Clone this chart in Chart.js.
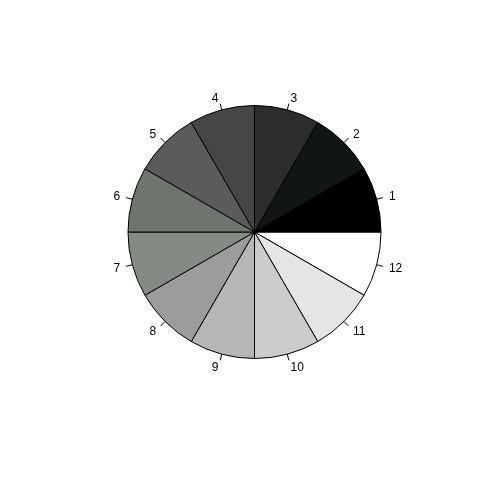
<!DOCTYPE html>
<html>
<head>
<meta charset="utf-8">
<script src="https://cdn.jsdelivr.net/npm/chart.js@4"></script>
<style>
html,body{margin:0;padding:0;background:#fff;}
#wrap{width:480px;height:480px;}
</style>
</head>
<body>
<div id="wrap"><canvas id="c" width="480" height="480"></canvas></div>
<script>
const sliceLabels = ['1','2','3','4','5','6','7','8','9','10','11','12'];
const sliceValues = [1,1,1,1,1,1,1,1,1,1,1,1];
const sliceColors = ['#000000','#121612','#2c2e2c','#444744','#5b5b5b','#6d756d',
                     '#848b84','#9c9c9c','#b4b7b4','#cccccc','#e5e5e5','#ffffff'];

// R draws counter-clockwise from 3 o'clock; Chart.js goes clockwise, so reverse order.
const chartLabels = sliceLabels.slice().reverse();
const chartValues = sliceValues.slice().reverse();
const chartColors = sliceColors.slice().reverse();

const outerLabels = {
  id: 'outerLabels',
  afterDraw(chart) {
    const ctx = chart.ctx;
    const meta = chart.getDatasetMeta(0);
    ctx.save();
    ctx.strokeStyle = '#000';
    ctx.lineWidth = 1;
    ctx.fillStyle = '#000';
    ctx.font = '12px "Liberation Sans", Arial, sans-serif';
    ctx.textBaseline = 'middle';
    meta.data.forEach((arc, i) => {
      const p = arc.getProps(['x','y','startAngle','endAngle','outerRadius'], true);
      const mid = (p.startAngle + p.endAngle) / 2;
      const c = Math.cos(mid), s = Math.sin(mid);
      const r = p.outerRadius;
      ctx.beginPath();
      ctx.moveTo(p.x + r * c, p.y + r * s);
      ctx.lineTo(p.x + 1.05 * r * c, p.y + 1.05 * r * s);
      ctx.stroke();
      ctx.textAlign = c < 0 ? 'right' : 'left';
      ctx.fillText(chart.data.labels[i], p.x + 1.1 * r * c, p.y + 1.1 * r * s + 1);
    });
    ctx.restore();
  }
};

new Chart(document.getElementById('c'), {
  type: 'pie',
  data: {
    labels: chartLabels,
    datasets: [{
      data: chartValues,
      backgroundColor: chartColors,
      borderColor: '#000',
      borderWidth: 1
    }]
  },
  options: {
    responsive: false,
    animation: false,
    rotation: 90,
    layout: { padding: { left: 127, right: 98, top: 105, bottom: 121 } },
    plugins: { legend: { display: false }, tooltip: { enabled: false } }
  },
  plugins: [outerLabels]
});
</script>
</body>
</html>
